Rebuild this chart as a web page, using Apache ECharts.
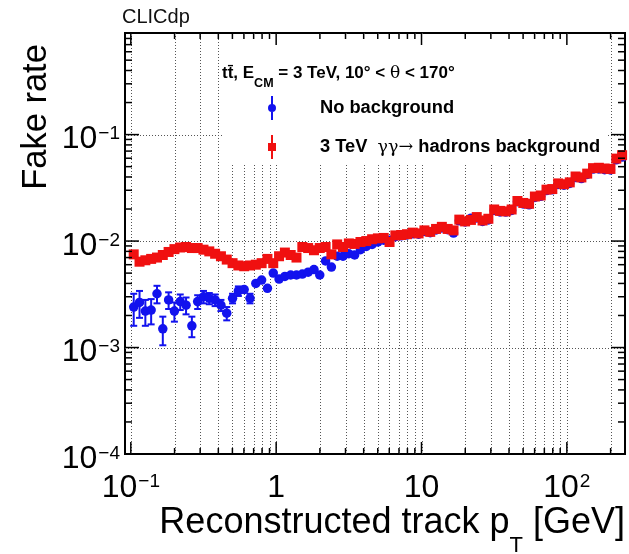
<!DOCTYPE html>
<html><head><meta charset="utf-8">
<script src="https://cdn.jsdelivr.net/npm/echarts@6/dist/echarts.min.js"></script>
<style>html,body{margin:0;padding:0;background:#fff}#c{width:629px;height:554px}</style>
</head><body><div id="c"></div>
<script>
// ---- data (bin centres of log-spaced pT bins, 25 bins/decade) ----
const pT = [0.1047,0.1148,0.1259,0.1380,0.1514,0.1660,0.1820,0.1995,0.2188,0.2399,
 0.2630,0.2884,0.3162,0.3467,0.3802,0.4169,0.4571,0.5012,0.5495,0.6026,
 0.6607,0.7244,0.7943,0.8710,0.9550,1.047,1.148,1.259,1.380,1.514,
 1.660,1.820,1.995,2.188,2.399,2.630,2.884,3.162,3.467,3.802,
 4.169,4.571,5.012,5.495,6.026,6.607,7.244,7.943,8.710,9.550,
 10.47,11.48,12.59,13.80,15.14,16.60,18.20,19.95,21.88,23.99,
 26.30,28.84,31.62,34.67,38.02,41.69,45.71,50.12,54.95,60.26,
 66.07,72.44,79.43,87.10,95.50,104.7,114.8,125.9,138.0,151.4,
 166.0,182.0,199.5,218.8,239.9];

const fakeRateNoBkg = [2.4e-3,2.65e-3,2.2e-3,2.25e-3,3.2e-3,1.5e-3,2.8e-3,2.2e-3,2.7e-3,2.5e-3,
 1.6e-3,2.7e-3,3.0e-3,2.9e-3,2.8e-3,2.5e-3,2.1e-3,2.9e-3,3.4e-3,3.5e-3,
 2.9e-3,4.0e-3,4.3e-3,3.6e-3,5.0e-3,4.4e-3,4.65e-3,4.8e-3,4.8e-3,4.9e-3,
 5.1e-3,5.4e-3,4.8e-3,6.5e-3,5.7e-3,7.2e-3,7.2e-3,7.6e-3,7.4e-3,8.3e-3,
 8.9e-3,9.3e-3,9.8e-3,1.02e-2,1.02e-2,1.10e-2,1.12e-2,1.14e-2,1.17e-2,1.16e-2,
 1.23e-2,1.20e-2,1.27e-2,1.33e-2,1.28e-2,1.19e-2,1.55e-2,1.51e-2,1.64e-2,1.65e-2,
 1.53e-2,1.58e-2,1.94e-2,1.88e-2,1.87e-2,1.94e-2,2.34e-2,2.23e-2,2.19e-2,2.57e-2,
 2.63e-2,2.98e-2,3.03e-2,3.40e-2,3.35e-2,3.48e-2,3.95e-2,3.86e-2,4.22e-2,4.74e-2,
 4.76e-2,4.68e-2,4.66e-2,5.80e-2,6.15e-2];

const errNoBkg = [8.0e-4,7.5e-4,6.0e-4,6.0e-4,6.0e-4,4.5e-4,5.0e-4,4.5e-4,4.5e-4,4.5e-4,
 3.5e-4,4.0e-4,4.0e-4,3.5e-4,3.5e-4,3.0e-4,3.0e-4,3.0e-4,3.5e-4,3.5e-4,
 3.0e-4,4.0e-4,4.0e-4,3.5e-4,3.5e-4,3.0e-4,3.0e-4,3.0e-4,3.0e-4,3.0e-4,
 3.0e-4,3.0e-4,3.0e-4,3.5e-4,3.0e-4,3.5e-4,3.5e-4,3.5e-4,3.5e-4,4.0e-4,
 4.0e-4,4.0e-4,4.0e-4,4.0e-4,4.0e-4,4.5e-4,4.5e-4,4.5e-4,4.5e-4,4.5e-4,
 5.0e-4,5.0e-4,5.0e-4,5.5e-4,5.5e-4,5.0e-4,6.5e-4,6.5e-4,7.0e-4,7.0e-4,
 7.0e-4,7.0e-4,8.5e-4,8.5e-4,8.5e-4,9.0e-4,1.0e-3,1.0e-3,1.0e-3,1.1e-3,
 1.2e-3,1.3e-3,1.3e-3,1.5e-3,1.5e-3,1.6e-3,1.8e-3,1.8e-3,2.0e-3,2.2e-3,
 2.3e-3,2.3e-3,2.4e-3,2.8e-3,3.0e-3];

const fakeRateBkg = [7.5e-3,6.4e-3,6.6e-3,6.8e-3,7.0e-3,7.4e-3,7.9e-3,8.4e-3,8.7e-3,8.8e-3,
 8.6e-3,8.6e-3,8.3e-3,8.0e-3,7.6e-3,7.2e-3,6.7e-3,6.2e-3,5.9e-3,5.8e-3,
 5.9e-3,6.0e-3,6.2e-3,6.8e-3,6.2e-3,7.2e-3,7.8e-3,7.4e-3,7.0e-3,8.8e-3,
 8.6e-3,8.2e-3,8.6e-3,8.8e-3,7.5e-3,9.3e-3,8.8e-3,9.5e-3,9.4e-3,9.8e-3,
 1.00e-2,1.04e-2,1.06e-2,1.07e-2,9.8e-3,1.13e-2,1.14e-2,1.16e-2,1.20e-2,1.18e-2,
 1.26e-2,1.22e-2,1.30e-2,1.36e-2,1.30e-2,1.26e-2,1.59e-2,1.53e-2,1.58e-2,1.68e-2,
 1.56e-2,1.62e-2,1.98e-2,1.92e-2,1.90e-2,1.98e-2,2.38e-2,2.28e-2,2.24e-2,2.62e-2,
 2.68e-2,3.04e-2,3.08e-2,3.48e-2,3.42e-2,3.56e-2,4.04e-2,3.96e-2,4.30e-2,4.84e-2,
 4.88e-2,4.80e-2,4.76e-2,5.95e-2,6.40e-2];

const seriesNames = ['No background', '3 TeV  \u03b3\u03b3\u2192 hadrons background'];
const xAxisTitle = 'Reconstructed track p';
const yAxisTitle = 'Fake rate';
const xDecades = [-1, 0, 1, 2];
const yDecades = [-4, -3, -2, -1];

// ---- layout / style ----
const FONT = '"Liberation Sans", Arial, Helvetica, sans-serif';
const X_MIN = Math.pow(10, -1.04), X_MAX = Math.pow(10, 2.4);
const Y_MIN = 1e-4, Y_MAX = 0.9;
const BLUE = '#1212ee', RED = '#f01010';
const GRIDC = '#555';

// grid-line and tick positions (decade * 1..9)
const xTickVals = [];
xDecades.forEach(d => { for (let m = 1; m <= 9; m++) { const v = m * Math.pow(10, d); if (v <= X_MAX) xTickVals.push([v, m === 1 ? 1 : 0]); } });
const yTickVals = [];
yDecades.forEach(d => { for (let m = 1; m <= 9; m++) { const v = m * Math.pow(10, d); if (v <= Y_MAX + 1e-9) yTickVals.push([v, m === 1 ? 1 : 0]); } });

const gridData = [];
xTickVals.forEach(t => gridData.push([t[0], 1e-2, 0]));
yDecades.filter(d => d > -4).forEach(d => gridData.push([1, Math.pow(10, d), 1]));

const tickData = [];
xTickVals.forEach(t => tickData.push([t[0], 1e-2, 0, t[1]]));
yTickVals.forEach(t => tickData.push([1, t[0], 1, t[1]]));

const errData = pT.map((x, i) => [x, fakeRateNoBkg[i], errNoBkg[i]]);
const noBkgData = pT.map((x, i) => [x, fakeRateNoBkg[i]]);
const bkgData = pT.map((x, i) => [x, fakeRateBkg[i]]);

function powLabel(v) {
  const e = Math.log10(v), r = Math.round(e);
  if (Math.abs(e - r) > 1e-6) return '';
  if (r === 0) return '{b|1}';
  if (r === 1) return '{b|10}';
  return '{b|10}{s|' + (r < 0 ? '\u2212' + (-r) : String(r)) + '}';
}
const xLabelRich = {
  b: { fontSize: 32, lineHeight: 36, fontFamily: FONT, color: '#000', verticalAlign: 'top' },
  s: { fontSize: 19, lineHeight: 19, fontFamily: FONT, color: '#000', verticalAlign: 'top', padding: [0, 0, 0, 1] }
};
const yLabelRich = {
  b: { fontSize: 32, lineHeight: 36, fontFamily: FONT, color: '#000', verticalAlign: 'top', padding: [7, 0, 0, 0] },
  s: { fontSize: 19, lineHeight: 19, fontFamily: FONT, color: '#000', verticalAlign: 'top', padding: [8, 0, 0, 1] }
};

const chart = echarts.init(document.getElementById('c'), null, { renderer: 'canvas', width: 629, height: 554 });

const option = {
  animation: false,
  backgroundColor: '#fff',
  grid: { left: 125, right: 4, top: 33, bottom: 100, show: true, borderColor: '#000', borderWidth: 2,
          backgroundColor: 'transparent', containLabel: false, outerBoundsMode: 'none' },
  xAxis: {
    type: 'log', logBase: 10, min: X_MIN, max: X_MAX,
    axisLine: { show: false }, axisTick: { show: false }, splitLine: { show: false },
    minorTick: { show: false }, minorSplitLine: { show: false },
    axisLabel: { formatter: powLabel, rich: xLabelRich, margin: 18, color: '#000', fontFamily: FONT }
  },
  yAxis: {
    type: 'log', logBase: 10, min: Y_MIN, max: Y_MAX,
    axisLine: { show: false }, axisTick: { show: false }, splitLine: { show: false },
    minorTick: { show: false }, minorSplitLine: { show: false },
    axisLabel: { formatter: powLabel, rich: yLabelRich, margin: 5, color: '#000', fontFamily: FONT }
  },
  legend: {
    orient: 'vertical', left: 268, top: 96, padding: 0, itemGap: 15,
    itemWidth: 8, itemHeight: 24,
    data: [
      { name: seriesNames[0], icon: 'path://M6,0H8V24H6Z M7,8A4,4 0 1,1 7,16A4,4 0 1,1 7,8Z' },
      { name: seriesNames[1], icon: 'path://M3,0H5V24H3Z M0,8H8V16H0Z' }
    ],
    formatter: function (name) {
      if (name === seriesNames[0]) return '{g|\u00a0}{t|No background}';
      return '{g|\u00a0}{t|3 TeV  }{n|\u03b3\u03b3\u2192}{t| hadrons background}';
    },
    textStyle: {
      color: '#000', fontFamily: FONT, fontSize: 18.3, fontWeight: 'bold',
      rich: {
        g: { width: 39 },
        t: { fontFamily: FONT, fontSize: 18.3, fontWeight: 'bold', color: '#000' },
        n: { fontFamily: '"DejaVu Serif", serif', fontSize: 17.5, fontWeight: 'normal', color: '#000' }
      }
    },
    selectedMode: false
  },
  graphic: { elements: [
    { type: 'rect', z: 1, silent: true, shape: { x: 223, y: 35, width: 383, height: 130 }, style: { fill: '#fff' } },
    { type: 'text', z: 10, x: 122, y: 17, style: { text: 'CLICdp', fontFamily: FONT, fontSize: 20, fill: '#111', align: 'left', verticalAlign: 'middle' } },
    { type: 'text', z: 10, x: 222, y: 65, style: {
        text: '{m|t\u0074\u0304, E}{sub|CM}{m| = 3 TeV, 10\u00b0 < }{th|\u03b8}{m| < 170\u00b0}',
        align: 'left', verticalAlign: 'top',
        rich: {
          m: { fontFamily: FONT, fontSize: 17, fontWeight: 'bold', lineHeight: 24, verticalAlign: 'top', fill: '#000' },
          sub: { fontFamily: FONT, fontSize: 12.5, fontWeight: 'bold', lineHeight: 12.5, padding: [12, 0, 0, 0], verticalAlign: 'top', fill: '#000' },
          th: { fontFamily: '"DejaVu Serif", serif', fontSize: 17, fontWeight: 'normal', lineHeight: 24, verticalAlign: 'top', fill: '#000' }
        } } },
    { type: 'text', z: 10, x: 36, y: 117, rotation: Math.PI / 2, style: {
        text: yAxisTitle, fontFamily: FONT, fontSize: 34.5, fill: '#000', align: 'center', verticalAlign: 'middle' } },
    { type: 'text', z: 10, x: 625, y: 505, style: {
        text: '{m|' + xAxisTitle + '}{s|T}{m| [GeV]}', align: 'right', verticalAlign: 'top',
        rich: {
          m: { fontFamily: FONT, fontSize: 36, lineHeight: 40, verticalAlign: 'top', fill: '#000' },
          s: { fontFamily: FONT, fontSize: 22, lineHeight: 22, padding: [30, 0, 0, 0], verticalAlign: 'top', fill: '#000' }
        } } }
  ] },
  series: [
    { type: 'custom', name: 'gridlines', z: 0, silent: true, data: gridData,
      renderItem: function (params, api) {
        const cs = params.coordSys;
        if (api.value(2) === 0) {
          const x = Math.round(api.coord([api.value(0), 1e-2])[0]) + 0.5;
          return { type: 'line', shape: { x1: x, y1: cs.y, x2: x, y2: cs.y + cs.height },
                   style: { stroke: GRIDC, lineWidth: 1, lineDash: [1, 2] } };
        }
        const y = Math.round(api.coord([1, api.value(1)])[1]) + 0.5;
        return { type: 'line', shape: { x1: cs.x, y1: y, x2: cs.x + cs.width, y2: y },
                 style: { stroke: GRIDC, lineWidth: 1, lineDash: [1, 2] } };
      } },
    { type: 'custom', name: 'errNoBkg', z: 2, silent: true, data: errData,
      renderItem: function (params, api) {
        const x = api.value(0), y = api.value(1), e = api.value(2);
        const pc = api.coord([x, y]);
        const p1 = api.coord([x, y - e]);
        const p2 = api.coord([x, y + e]);
        if (Math.max(p1[1] - pc[1], pc[1] - p2[1]) < 5) return null;
        const st = { stroke: BLUE, lineWidth: 2 };
        return { type: 'group', children: [
          { type: 'line', shape: { x1: pc[0], y1: p1[1], x2: pc[0], y2: p2[1] }, style: st },
          { type: 'line', shape: { x1: pc[0] - 3.5, y1: p1[1], x2: pc[0] + 3.5, y2: p1[1] }, style: st },
          { type: 'line', shape: { x1: pc[0] - 3.5, y1: p2[1], x2: pc[0] + 3.5, y2: p2[1] }, style: st }
        ] };
      } },
    { type: 'scatter', name: seriesNames[0], z: 2, data: noBkgData, symbol: 'circle', symbolSize: 9.5,
      itemStyle: { color: BLUE, opacity: 1 }, silent: true },
    { type: 'scatter', name: seriesNames[1], z: 2, data: bkgData, symbol: 'rect', symbolSize: 10,
      itemStyle: { color: RED, opacity: 1 }, silent: true },
    { type: 'custom', name: 'ticks', z: 3, silent: true, data: tickData,
      renderItem: function (params, api) {
        const cs = params.coordSys;
        const major = api.value(3) === 1;
        const st = { stroke: '#000', lineWidth: 1.5 };
        if (api.value(2) === 0) {
          const x = api.coord([api.value(0), 1e-2])[0];
          const len = major ? 12 : 6;
          return { type: 'group', children: [
            { type: 'line', shape: { x1: x, y1: cs.y + cs.height, x2: x, y2: cs.y + cs.height - len }, style: st },
            { type: 'line', shape: { x1: x, y1: cs.y, x2: x, y2: cs.y + len }, style: st }
          ] };
        }
        const y = api.coord([1, api.value(1)])[1];
        const len = major ? 14 : 7;
        return { type: 'group', children: [
          { type: 'line', shape: { x1: cs.x, y1: y, x2: cs.x + len, y2: y }, style: st },
          { type: 'line', shape: { x1: cs.x + cs.width, y1: y, x2: cs.x + cs.width - len, y2: y }, style: st }
        ] };
      } }
  ]
};
chart.setOption(option);
</script>
</body></html>
